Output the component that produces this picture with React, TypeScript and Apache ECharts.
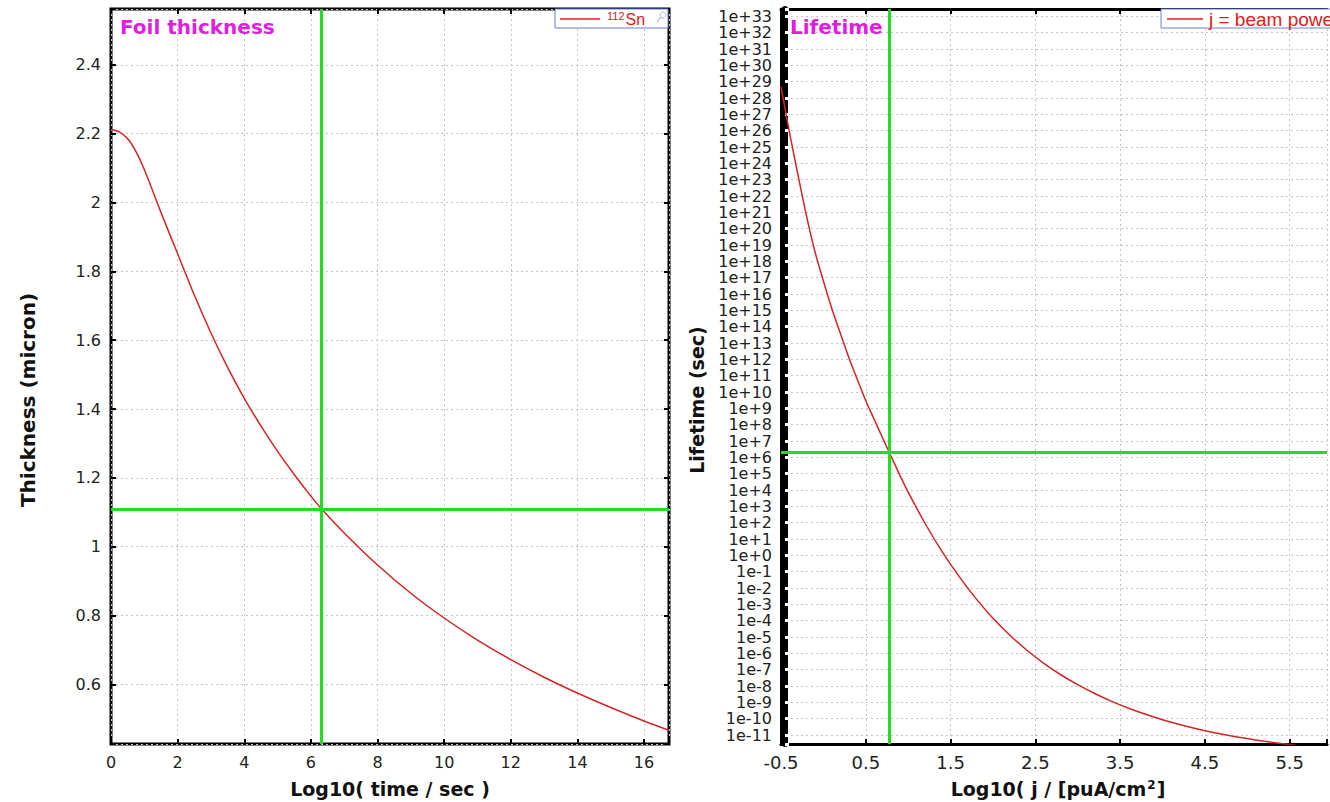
import React, { useEffect, useRef } from "react";
import * as echarts from "echarts";

// ---- Left chart: foil thickness vs log10(time) ----
const timeLog = [0, 0.25, 0.5, 0.75, 1, 1.5, 2, 2.5, 3, 3.5, 4, 4.5, 5, 5.5, 6, 6.31, 7, 8, 9, 10, 11, 12, 13, 14, 15, 16, 16.75];
const thickness = [2.212, 2.205, 2.185, 2.148, 2.096, 1.971, 1.851, 1.731, 1.621, 1.521, 1.431, 1.351, 1.277, 1.21, 1.147, 1.111, 1.04, 0.947, 0.865, 0.793, 0.729, 0.672, 0.621, 0.575, 0.533, 0.494, 0.467];
const leftCross = [6.31, 1.111]; // [log10 time, thickness]
const leftXRange = [0, 16.75];
const leftYRange = [0.427, 2.562];

// ---- Right chart: lifetime vs log10(j) ----
const jLog = [-0.5, -0.4, -0.3, -0.2, -0.1, 0, 0.1, 0.2, 0.3, 0.4, 0.5, 0.6, 0.7, 0.775, 0.9, 1.0, 1.2, 1.4, 1.6, 1.8, 2.0, 2.2, 2.4, 2.6, 2.8, 3.0, 3.2, 3.4, 3.6, 3.8, 4.0, 4.2, 4.4, 4.6, 4.8, 5.0, 5.2, 5.4, 5.6, 5.8, 6.0];
const lifetimeLog = [28.7, 25.9, 23.3, 20.8, 18.6, 16.8, 15.1, 13.6, 12.12, 10.77, 9.47, 8.32, 7.17, 6.33, 4.93, 3.87, 1.95, 0.23, -1.29, -2.65, -3.85, -4.89, -5.81, -6.61, -7.31, -7.92, -8.46, -8.94, -9.36, -9.73, -10.06, -10.35, -10.61, -10.84, -11.04, -11.22, -11.38, -11.52, -11.65, -11.77, -11.88];
const rightCross = [0.775, 6.33]; // [log10 j, log10 lifetime]
const rightXRange = [-0.5, 5.94];
const rightYRange = [-11.55, 33.45];

const FONT = '"DejaVu Sans", sans-serif';
const GRID_LINE = { show: true, lineStyle: { color: "#c4c4c4", type: [2, 3] as any, width: 1 } };
const TICK_IN = { show: true, inside: true, length: 5, lineStyle: { color: "#000", width: 2 } };
const NO_LINE = { show: false, onZero: false };
const BORDER = { show: true, onZero: false, lineStyle: { color: "#000", width: 3 } };

export default function App() {
  const ref = useRef<HTMLDivElement>(null);
  useEffect(() => {
    if (!ref.current) return;
    const chart = echarts.init(ref.current, null, { renderer: "svg" });
    const leftData = timeLog.map((x, i) => [x, thickness[i]]);
    const rightData = jLog.map((x, i) => [x, lifetimeLog[i]]);
    const crossStyle = { color: "#22dd22", width: 3, type: "solid" as const };

    const option: any = {
      animation: false,
      backgroundColor: "#fff",
      grid: [
        { left: 111, top: 9, width: 558, height: 735, show: true, borderColor: "#000", borderWidth: 3, backgroundColor: "#fff" },
        { left: 781, top: 9, width: 549, height: 735, show: false },
      ],
      xAxis: [
        {
          gridIndex: 0, type: "value", position: "bottom", min: leftXRange[0], max: leftXRange[1], interval: 2,
          axisLine: NO_LINE, axisTick: TICK_IN, splitLine: GRID_LINE,
          axisLabel: {
            fontFamily: FONT, fontSize: 16, color: "#222", margin: 10,
            formatter: (v: number) => (Math.abs(v / 2 - Math.round(v / 2)) < 1e-6 ? String(Math.round(v)) : ""),
          },
        },
        {
          gridIndex: 0, type: "value", position: "top", min: leftXRange[0], max: leftXRange[1], interval: 2,
          axisLine: NO_LINE, axisTick: TICK_IN, axisLabel: { show: false }, splitLine: { show: false },
        },
        {
          gridIndex: 1, type: "value", position: "bottom", min: rightXRange[0], max: rightXRange[1], interval: 1,
          axisLine: BORDER, axisTick: TICK_IN, splitLine: GRID_LINE,
          axisLabel: {
            fontFamily: FONT, fontSize: 18, color: "#222", margin: 9,
            formatter: (v: number) => (v < 5.8 ? v.toFixed(1) : ""),
          },
        },
        {
          gridIndex: 1, type: "value", position: "top", min: rightXRange[0], max: rightXRange[1], interval: 1,
          axisLine: BORDER, axisTick: TICK_IN, axisLabel: { show: false }, splitLine: { show: false },
        },
      ],
      yAxis: [
        {
          gridIndex: 0, type: "value", position: "left", min: leftYRange[0], max: leftYRange[1], splitNumber: 10,
          axisLine: NO_LINE, axisTick: TICK_IN, splitLine: GRID_LINE,
          axisLabel: {
            fontFamily: FONT, fontSize: 16, color: "#222", margin: 10,
            formatter: (v: number) => {
              const r = Math.round(v * 5);
              return Math.abs(v * 5 - r) < 1e-6 ? String(+(r / 5).toFixed(1)) : "";
            },
          },
        },
        {
          gridIndex: 0, type: "value", position: "right", min: leftYRange[0], max: leftYRange[1], splitNumber: 10,
          axisLine: NO_LINE, axisTick: TICK_IN, axisLabel: { show: false }, splitLine: { show: false },
        },
        {
          gridIndex: 1, type: "value", position: "left", min: rightYRange[0], max: rightYRange[1], splitNumber: 45,
          axisLine: BORDER, axisTick: { show: false }, splitLine: GRID_LINE,
          axisLabel: {
            fontFamily: FONT, fontSize: 16, color: "#222", margin: 9, lineHeight: 14,
            formatter: (v: number) => {
              const r = Math.round(v);
              if (Math.abs(v - r) > 1e-6) return "";
              return r >= 0 ? "1e+" + r : "1e" + r;
            },
          },
        },
        {
          gridIndex: 1, type: "value", position: "left", offset: -4, min: rightYRange[0], max: rightYRange[1], splitNumber: 45,
          axisLine: { show: true, onZero: false, lineStyle: { color: "#000", width: 6 } },
          axisTick: { show: true, inside: true, length: 4, lineStyle: { color: "#fff", width: 3 } },
          axisLabel: { show: false }, splitLine: { show: false },
        },
      ],
      series: [
        {
          type: "line", xAxisIndex: 0, yAxisIndex: 0, data: leftData, showSymbol: false, smooth: 0.3,
          lineStyle: { color: "#d42525", width: 1.5 }, z: 3,
          markLine: {
            silent: true, symbol: "none", label: { show: false }, lineStyle: crossStyle,
            data: [{ xAxis: leftCross[0] }, { yAxis: leftCross[1] }],
          },
        },
        {
          type: "line", xAxisIndex: 2, yAxisIndex: 2, data: rightData, showSymbol: false, smooth: 0.3, clip: true,
          lineStyle: { color: "#d42525", width: 1.5 }, z: 3,
          markLine: {
            silent: true, symbol: "none", label: { show: false }, lineStyle: crossStyle,
            data: [{ xAxis: rightCross[0] }, { yAxis: rightCross[1] }],
          },
        },
      ],
      graphic: [
        { type: "text", x: 120, y: 27, z: 10, style: { text: "Foil thickness", fill: "#e01ee0", font: `bold 20px ${FONT}`, verticalAlign: "middle" } },
        { type: "text", x: 790, y: 27, z: 10, style: { text: "Lifetime", fill: "#e01ee0", font: `bold 20px ${FONT}`, verticalAlign: "middle" } },
        { type: "text", x: 390, y: 789, style: { text: "Log10( time / sec )", fill: "#111", font: `bold 19px ${FONT}`, align: "center", verticalAlign: "middle" } },
        {
          type: "text", x: 1058, y: 789,
          style: {
            text: "{t|Log10( j / [puA/cm}{s|2}{t|]}", fill: "#111", align: "center", verticalAlign: "middle",
            rich: {
              t: { font: `bold 19px ${FONT}`, fill: "#111" },
              s: { font: `bold 12px ${FONT}`, fill: "#111", verticalAlign: "top", padding: [0, 1, 8, 1] },
            },
          },
        },
        { type: "text", x: 28, y: 400, rotation: Math.PI / 2, style: { text: "Thickness (micron)", fill: "#111", font: `bold 20px ${FONT}`, align: "center", verticalAlign: "middle" } },
        { type: "text", x: 697, y: 400, rotation: Math.PI / 2, style: { text: "Lifetime (sec)", fill: "#111", font: `bold 19px ${FONT}`, align: "center", verticalAlign: "middle" } },
        // left legend
        { type: "rect", z: 10, shape: { x: 555, y: 9, width: 113, height: 19 }, style: { fill: "#fff", stroke: "#6a7fd8", lineWidth: 1 } },
        { type: "line", z: 11, shape: { x1: 560, y1: 19, x2: 600, y2: 19 }, style: { stroke: "#dd2020", lineWidth: 1.5 } },
        {
          type: "text", z: 11, x: 607, y: 19,
          style: {
            text: "{s|112}{t|Sn}", verticalAlign: "middle",
            rich: {
              s: { font: `11px "Liberation Sans", Arial`, fill: "#dd2020", verticalAlign: "top", padding: [0, 1, 6, 0] },
              t: { font: `16px "Liberation Sans", Arial`, fill: "#dd2020" },
            },
          },
        },
        { type: "circle", z: 11, shape: { cx: 663, cy: 15, r: 3 }, style: { fill: "none", stroke: "#9fb3e6", lineWidth: 1 } },
        { type: "line", z: 11, shape: { x1: 661, y1: 17, x2: 657, y2: 22 }, style: { stroke: "#9fb3e6", lineWidth: 1.2 } },
        // right legend
        { type: "rect", z: 10, shape: { x: 1161, y: 9, width: 220, height: 19 }, style: { fill: "#fff", stroke: "#6a7fd8", lineWidth: 1 } },
        { type: "line", z: 11, shape: { x1: 1167, y1: 19, x2: 1203, y2: 19 }, style: { stroke: "#dd2020", lineWidth: 1.5 } },
        { type: "text", z: 11, x: 1209, y: 19, style: { text: "j = beam power density", fill: "#dd2020", font: `19px "Liberation Sans", Arial`, verticalAlign: "middle" } },
      ],
    };
    chart.setOption(option);
    return () => chart.dispose();
  }, []);
  return (
    <div
      ref={ref}
      style={{ position: "fixed", left: 0, top: 0, width: 1330, height: 802, background: "#fff" }}
    />
  );
}
